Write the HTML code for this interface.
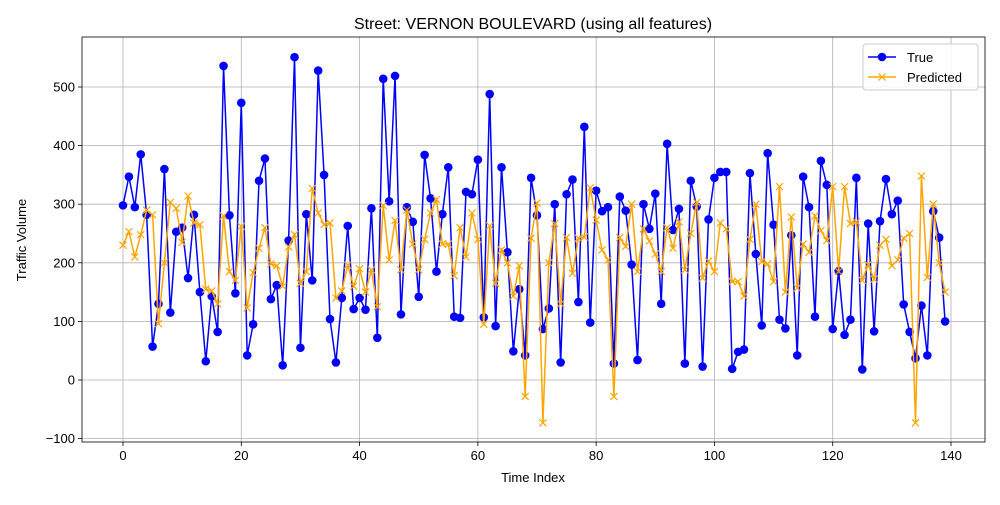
<!DOCTYPE html>
<html><head><meta charset="utf-8"><style>
body{margin:0;background:#fff;font-family:"Liberation Sans",sans-serif}
svg text{font-family:"Liberation Sans",sans-serif}
</style></head><body>
<svg id="c" width="1000" height="500" xmlns="http://www.w3.org/2000/svg"></svg>
<script>
const indices=[...Array(140).keys()];
const trueVals=[298,347,295,385,282,57,130,360,115,253,260,174,282,150,32,143,82,536,281,148,473,42,95,340,378,138,162,25,238,551,55,283,170,528,350,104,30,140,263,121,140,120,293,72,514,305,519,112,295,270,142,384,310,185,283,363,108,106,321,317,376,107,488,92,363,218,49,155,42,345,281,87,122,300,30,317,342,133,432,98,323,288,295,28,313,289,197,34,300,258,318,130,403,256,292,28,340,296,23,274,345,355,355,19,48,52,353,215,93,387,265,103,88,247,42,347,295,108,374,333,87,186,77,103,345,18,267,83,271,343,283,306,129,82,37,127,42,288,243,100];
const predVals=[230,253,210,248,290,282,96,200,303,293,235,314,268,265,155,152,130,280,185,170,262,123,183,225,260,198,195,160,227,248,165,185,327,285,265,268,140,152,196,160,190,150,188,125,298,205,272,188,290,232,188,240,285,308,232,232,178,260,210,285,240,95,263,165,222,200,143,195,-28,242,302,-73,200,267,130,243,182,242,244,328,273,222,205,-28,243,228,300,185,258,237,215,185,260,225,270,188,250,303,174,203,185,268,258,168,168,143,240,300,202,198,168,330,150,278,157,232,218,280,255,238,330,185,330,267,270,170,197,172,230,240,195,205,242,250,-73,348,175,300,200,150];
const xTicks=[0,20,40,60,80,100,120,140];
const yTicks=[-100,0,100,200,300,400,500];
const L=82,R=985,T=37,B=442;
const sx=v=>123+v*(951-123)/140;
const sy=v=>380-v*0.586;
const svg=document.getElementById('c');
const NS='http://www.w3.org/2000/svg';
function mk(t,a,p){const e=document.createElementNS(NS,t);for(const k in a)e.setAttribute(k,a[k]);(p||svg).appendChild(e);return e;}
// grid + ticks
xTicks.forEach(v=>{
 const g=mk('line',{x1:sx(v),x2:sx(v),y1:T,y2:B,stroke:'#b0b0b0','stroke-width':0.8});
 
 
 mk('line',{x1:sx(v),x2:sx(v),y1:B,y2:B+4,stroke:'#000','stroke-width':0.8});
 const t=mk('text',{x:sx(v),y:B+18,'text-anchor':'middle','font-size':13});t.textContent=v;
 
 
});
yTicks.forEach(v=>{
 const g=mk('line',{x1:L,x2:R,y1:sy(v),y2:sy(v),stroke:'#b0b0b0','stroke-width':0.8});
 
 
 mk('line',{x1:L-4,x2:L,y1:sy(v),y2:sy(v),stroke:'#000','stroke-width':0.8});
 const t=mk('text',{x:L-7,y:sy(v)+4.5,'text-anchor':'end','font-size':13});t.textContent=v===-100?'\u2212100':v;
 
 
});
const fr=mk('rect',{x:L,y:T,width:R-L,height:B-T,fill:'none',stroke:'#000','stroke-width':0.8});


// true series
const tl=mk('polyline',{points:indices.map(i=>sx(i)+','+sy(trueVals[i])).join(' '),fill:'none',stroke:'#0000ff','stroke-width':1.5});


indices.forEach(i=>{const c=mk('circle',{cx:sx(i),cy:sy(trueVals[i]),r:4.3,fill:'#0000ff'});
 
 });
// predicted
const pl=mk('polyline',{points:indices.map(i=>sx(i)+','+sy(predVals[i])).join(' '),fill:'none',stroke:'#ffa500','stroke-width':1.5});


indices.forEach(i=>{const x=sx(i),y=sy(predVals[i]),d=3.5;
 const m=mk('path',{d:`M${x-d},${y-d}L${x+d},${y+d}M${x-d},${y+d}L${x+d},${y-d}`,stroke:'#ffa500','stroke-width':1.2});
 
 });
// title & labels
const ti=mk('text',{x:533,y:29,'text-anchor':'middle','font-size':16});ti.textContent='Street: VERNON BOULEVARD (using all features)';


const xl=mk('text',{x:533,y:482,'text-anchor':'middle','font-size':13});xl.textContent='Time Index';


const yl=mk('text',{x:26,y:240,'text-anchor':'middle','font-size':13,transform:'rotate(-90 26 240)'});yl.textContent='Traffic Volume';


// legend
const lg=mk('g',{});


mk('rect',{x:863,y:44,width:115,height:46,rx:3,fill:'#fff','fill-opacity':0.85,stroke:'#ccc'},lg);
mk('line',{x1:868,x2:896,y1:57,y2:57,stroke:'#0000ff','stroke-width':1.5},lg);
mk('circle',{cx:882,cy:57,r:4.3,fill:'#0000ff'},lg);
const l1=mk('text',{x:907,y:62,'font-size':13},lg);l1.textContent='True';


mk('line',{x1:868,x2:896,y1:77,y2:77,stroke:'#ffa500','stroke-width':1.5},lg);
mk('path',{d:'M878.5,73.5L885.5,80.5M878.5,80.5L885.5,73.5',stroke:'#ffa500','stroke-width':1.2},lg);
const l2=mk('text',{x:907,y:82,'font-size':13},lg);l2.textContent='Predicted';


</script>
</body></html>
